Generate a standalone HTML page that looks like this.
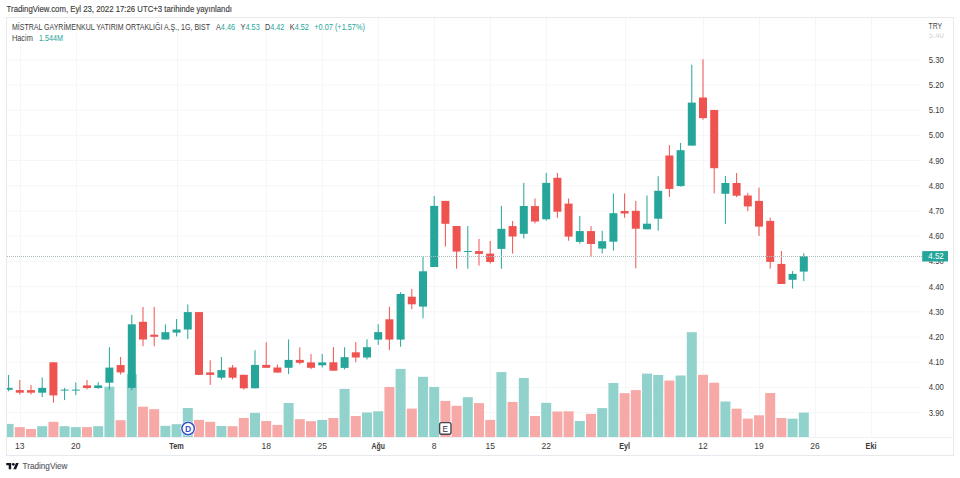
<!DOCTYPE html>
<html><head><meta charset="utf-8">
<style>
html,body{margin:0;padding:0;background:#fff;width:960px;height:478px;overflow:hidden}
svg{display:block;font-family:"Liberation Sans",sans-serif}
.pl{font-size:8.5px;fill:#383838}
.tl{font-size:8.5px;fill:#383838}
.b{font-weight:bold}
</style></head><body>
<svg width="960" height="478" viewBox="0 0 960 478">
<rect x="0" y="0" width="960" height="478" fill="#fff"/>
<text x="6.6" y="12.3" font-size="9.3" fill="#3c3c3c" stroke="#3c3c3c" stroke-width="0.15" textLength="225.3" lengthAdjust="spacingAndGlyphs">TradingView.com, Eyl 23, 2022 17:26 UTC+3 tarihinde yayınlandı</text>
<g>
<line x1="20.5" y1="17.5" x2="20.5" y2="437" stroke="#f5f6f8" stroke-width="1"/>
<line x1="76.5" y1="17.5" x2="76.5" y2="437" stroke="#f5f6f8" stroke-width="1"/>
<line x1="177.5" y1="17.5" x2="177.5" y2="437" stroke="#f5f6f8" stroke-width="1"/>
<line x1="266.5" y1="17.5" x2="266.5" y2="437" stroke="#f5f6f8" stroke-width="1"/>
<line x1="322.5" y1="17.5" x2="322.5" y2="437" stroke="#f5f6f8" stroke-width="1"/>
<line x1="378.5" y1="17.5" x2="378.5" y2="437" stroke="#f5f6f8" stroke-width="1"/>
<line x1="434.5" y1="17.5" x2="434.5" y2="437" stroke="#f5f6f8" stroke-width="1"/>
<line x1="490.5" y1="17.5" x2="490.5" y2="437" stroke="#f5f6f8" stroke-width="1"/>
<line x1="546.5" y1="17.5" x2="546.5" y2="437" stroke="#f5f6f8" stroke-width="1"/>
<line x1="625.5" y1="17.5" x2="625.5" y2="437" stroke="#f5f6f8" stroke-width="1"/>
<line x1="703.5" y1="17.5" x2="703.5" y2="437" stroke="#f5f6f8" stroke-width="1"/>
<line x1="759.5" y1="17.5" x2="759.5" y2="437" stroke="#f5f6f8" stroke-width="1"/>
<line x1="815.5" y1="17.5" x2="815.5" y2="437" stroke="#f5f6f8" stroke-width="1"/>
<line x1="871.5" y1="17.5" x2="871.5" y2="437" stroke="#f5f6f8" stroke-width="1"/>
<line x1="7" y1="412.6" x2="921" y2="412.6" stroke="#f5f6f8" stroke-width="1"/>
<line x1="7" y1="387.4" x2="921" y2="387.4" stroke="#f5f6f8" stroke-width="1"/>
<line x1="7" y1="362.2" x2="921" y2="362.2" stroke="#f5f6f8" stroke-width="1"/>
<line x1="7" y1="337" x2="921" y2="337" stroke="#f5f6f8" stroke-width="1"/>
<line x1="7" y1="311.8" x2="921" y2="311.8" stroke="#f5f6f8" stroke-width="1"/>
<line x1="7" y1="286.6" x2="921" y2="286.6" stroke="#f5f6f8" stroke-width="1"/>
<line x1="7" y1="261.4" x2="921" y2="261.4" stroke="#f5f6f8" stroke-width="1"/>
<line x1="7" y1="236.2" x2="921" y2="236.2" stroke="#f5f6f8" stroke-width="1"/>
<line x1="7" y1="211" x2="921" y2="211" stroke="#f5f6f8" stroke-width="1"/>
<line x1="7" y1="185.8" x2="921" y2="185.8" stroke="#f5f6f8" stroke-width="1"/>
<line x1="7" y1="160.6" x2="921" y2="160.6" stroke="#f5f6f8" stroke-width="1"/>
<line x1="7" y1="135.4" x2="921" y2="135.4" stroke="#f5f6f8" stroke-width="1"/>
<line x1="7" y1="110.2" x2="921" y2="110.2" stroke="#f5f6f8" stroke-width="1"/>
<line x1="7" y1="85" x2="921" y2="85" stroke="#f5f6f8" stroke-width="1"/>
<line x1="7" y1="59.8" x2="921" y2="59.8" stroke="#f5f6f8" stroke-width="1"/>
<rect x="7" y="423.9" width="6.6" height="13.1" fill="#92d2cc"/>
<rect x="14.8" y="427.1" width="10" height="9.9" fill="#f7a9a7"/>
<rect x="26" y="429" width="10" height="8" fill="#f7a9a7"/>
<rect x="37.2" y="426.2" width="10" height="10.8" fill="#92d2cc"/>
<rect x="48.4" y="421.8" width="10" height="15.2" fill="#f7a9a7"/>
<rect x="59.6" y="426.2" width="10" height="10.8" fill="#92d2cc"/>
<rect x="70.8" y="427.1" width="10" height="9.9" fill="#92d2cc"/>
<rect x="82" y="427.1" width="10" height="9.9" fill="#f7a9a7"/>
<rect x="93.2" y="426.2" width="10" height="10.8" fill="#92d2cc"/>
<rect x="104.4" y="386.7" width="10" height="50.3" fill="#92d2cc"/>
<rect x="115.6" y="420.2" width="10" height="16.8" fill="#f7a9a7"/>
<rect x="126.8" y="374" width="10" height="63" fill="#92d2cc"/>
<rect x="138" y="406.7" width="10" height="30.3" fill="#f7a9a7"/>
<rect x="149.2" y="409.2" width="10" height="27.8" fill="#f7a9a7"/>
<rect x="160.4" y="425.8" width="10" height="11.2" fill="#92d2cc"/>
<rect x="171.6" y="424.2" width="10" height="12.8" fill="#92d2cc"/>
<rect x="182.8" y="408" width="10" height="29" fill="#92d2cc"/>
<rect x="194" y="419.9" width="10" height="17.1" fill="#f7a9a7"/>
<rect x="205.2" y="421.8" width="10" height="15.2" fill="#f7a9a7"/>
<rect x="216.4" y="426" width="10" height="11" fill="#92d2cc"/>
<rect x="227.6" y="426.2" width="10" height="10.8" fill="#f7a9a7"/>
<rect x="238.8" y="418" width="10" height="19" fill="#f7a9a7"/>
<rect x="250" y="412.9" width="10" height="24.1" fill="#92d2cc"/>
<rect x="261.2" y="421" width="10" height="16" fill="#f7a9a7"/>
<rect x="272.4" y="424.9" width="10" height="12.1" fill="#f7a9a7"/>
<rect x="283.6" y="403" width="10" height="34" fill="#92d2cc"/>
<rect x="294.8" y="419.2" width="10" height="17.8" fill="#f7a9a7"/>
<rect x="306" y="421.2" width="10" height="15.8" fill="#f7a9a7"/>
<rect x="317.2" y="419.9" width="10" height="17.1" fill="#92d2cc"/>
<rect x="328.4" y="418" width="10" height="19" fill="#f7a9a7"/>
<rect x="339.6" y="388.9" width="10" height="48.1" fill="#92d2cc"/>
<rect x="350.8" y="416" width="10" height="21" fill="#f7a9a7"/>
<rect x="362" y="412.5" width="10" height="24.5" fill="#92d2cc"/>
<rect x="373.2" y="411.3" width="10" height="25.7" fill="#92d2cc"/>
<rect x="384.4" y="387" width="10" height="50" fill="#f7a9a7"/>
<rect x="395.6" y="368.9" width="10" height="68.1" fill="#92d2cc"/>
<rect x="406.8" y="408.6" width="10" height="28.4" fill="#f7a9a7"/>
<rect x="418" y="376.8" width="10" height="60.2" fill="#92d2cc"/>
<rect x="429.2" y="387" width="10" height="50" fill="#92d2cc"/>
<rect x="440.4" y="400.9" width="10" height="36.1" fill="#f7a9a7"/>
<rect x="451.6" y="405.8" width="10" height="31.2" fill="#f7a9a7"/>
<rect x="462.8" y="397.2" width="10" height="39.8" fill="#92d2cc"/>
<rect x="474" y="403.1" width="10" height="33.9" fill="#f7a9a7"/>
<rect x="485.2" y="419.9" width="10" height="17.1" fill="#f7a9a7"/>
<rect x="496.4" y="372.1" width="10" height="64.9" fill="#92d2cc"/>
<rect x="507.6" y="401.9" width="10" height="35.1" fill="#f7a9a7"/>
<rect x="518.8" y="378" width="10" height="59" fill="#92d2cc"/>
<rect x="530" y="416" width="10" height="21" fill="#f7a9a7"/>
<rect x="541.2" y="402.8" width="10" height="34.2" fill="#92d2cc"/>
<rect x="552.4" y="411.5" width="10" height="25.5" fill="#f7a9a7"/>
<rect x="563.6" y="411.3" width="10" height="25.7" fill="#f7a9a7"/>
<rect x="574.8" y="421" width="10" height="16" fill="#92d2cc"/>
<rect x="586" y="413.9" width="10" height="23.1" fill="#f7a9a7"/>
<rect x="597.2" y="408.1" width="10" height="28.9" fill="#92d2cc"/>
<rect x="608.4" y="383" width="10" height="54" fill="#92d2cc"/>
<rect x="619.6" y="393.2" width="10" height="43.8" fill="#f7a9a7"/>
<rect x="630.8" y="390.1" width="10" height="46.9" fill="#f7a9a7"/>
<rect x="642" y="373.6" width="10" height="63.4" fill="#92d2cc"/>
<rect x="653.2" y="375" width="10" height="62" fill="#92d2cc"/>
<rect x="664.4" y="380.5" width="10" height="56.5" fill="#f7a9a7"/>
<rect x="675.6" y="375.5" width="10" height="61.5" fill="#92d2cc"/>
<rect x="686.8" y="332.2" width="10" height="104.8" fill="#92d2cc"/>
<rect x="698" y="374.8" width="10" height="62.2" fill="#f7a9a7"/>
<rect x="709.2" y="382.7" width="10" height="54.3" fill="#f7a9a7"/>
<rect x="720.4" y="401.5" width="10" height="35.5" fill="#92d2cc"/>
<rect x="731.6" y="408.7" width="10" height="28.3" fill="#f7a9a7"/>
<rect x="742.8" y="418.6" width="10" height="18.4" fill="#f7a9a7"/>
<rect x="754" y="415.3" width="10" height="21.7" fill="#f7a9a7"/>
<rect x="765.2" y="393" width="10" height="44" fill="#f7a9a7"/>
<rect x="776.4" y="418" width="10" height="19" fill="#f7a9a7"/>
<rect x="787.6" y="418.7" width="10" height="18.3" fill="#92d2cc"/>
<rect x="798.8" y="412.6" width="10" height="24.4" fill="#92d2cc"/>
<rect x="8.1" y="374.9" width="1" height="16.4" fill="#26a69a"/>
<rect x="7" y="387.9" width="5.6" height="1.9" fill="#26a69a"/>
<rect x="19.3" y="379.9" width="1" height="14.6" fill="#ef5350"/>
<rect x="15.8" y="390.1" width="8" height="2.6" fill="#ef5350"/>
<rect x="30.5" y="385.1" width="1" height="9.4" fill="#ef5350"/>
<rect x="27" y="390.1" width="8" height="2.6" fill="#ef5350"/>
<rect x="41.7" y="377.4" width="1" height="19.7" fill="#26a69a"/>
<rect x="38.2" y="387.9" width="8" height="4.8" fill="#26a69a"/>
<rect x="52.9" y="362.3" width="1" height="40.4" fill="#ef5350"/>
<rect x="49.4" y="362.3" width="8" height="33.1" fill="#ef5350"/>
<rect x="64.1" y="388" width="1" height="12.1" fill="#26a69a"/>
<rect x="60.6" y="389.6" width="8" height="1" fill="#26a69a"/>
<rect x="75.3" y="382.5" width="1" height="12.5" fill="#26a69a"/>
<rect x="71.8" y="389.6" width="8" height="1" fill="#26a69a"/>
<rect x="86.5" y="379.9" width="1" height="9.6" fill="#ef5350"/>
<rect x="83" y="385.4" width="8" height="2.6" fill="#ef5350"/>
<rect x="97.7" y="382.2" width="1" height="6.6" fill="#26a69a"/>
<rect x="94.2" y="385.4" width="8" height="2.6" fill="#26a69a"/>
<rect x="108.9" y="347.2" width="1" height="42.5" fill="#26a69a"/>
<rect x="105.4" y="367.6" width="8" height="15.1" fill="#26a69a"/>
<rect x="120.1" y="357" width="1" height="17.5" fill="#ef5350"/>
<rect x="116.6" y="365.1" width="8" height="7.3" fill="#ef5350"/>
<rect x="131.3" y="314.9" width="1" height="75.1" fill="#26a69a"/>
<rect x="127.8" y="324.3" width="8" height="63.6" fill="#26a69a"/>
<rect x="142.5" y="306.9" width="1" height="39.3" fill="#ef5350"/>
<rect x="139" y="321.8" width="8" height="17.7" fill="#ef5350"/>
<rect x="153.7" y="306.9" width="1" height="39.3" fill="#ef5350"/>
<rect x="150.2" y="334.7" width="8" height="2.1" fill="#ef5350"/>
<rect x="164.9" y="324.3" width="1" height="15.2" fill="#26a69a"/>
<rect x="161.4" y="332.2" width="8" height="7.3" fill="#26a69a"/>
<rect x="176.1" y="319" width="1" height="17.4" fill="#26a69a"/>
<rect x="172.6" y="329.5" width="8" height="3.1" fill="#26a69a"/>
<rect x="187.3" y="304.4" width="1" height="34.5" fill="#26a69a"/>
<rect x="183.8" y="312.1" width="8" height="17.4" fill="#26a69a"/>
<rect x="198.5" y="312.1" width="1" height="62.8" fill="#ef5350"/>
<rect x="195" y="312.1" width="8" height="62.8" fill="#ef5350"/>
<rect x="209.7" y="360.2" width="1" height="24.7" fill="#ef5350"/>
<rect x="206.2" y="372.4" width="8" height="2.5" fill="#ef5350"/>
<rect x="220.9" y="357" width="1" height="22.5" fill="#26a69a"/>
<rect x="217.4" y="370.1" width="8" height="7.6" fill="#26a69a"/>
<rect x="232.1" y="364.9" width="1" height="14.6" fill="#ef5350"/>
<rect x="228.6" y="367.5" width="8" height="10.2" fill="#ef5350"/>
<rect x="243.3" y="374.8" width="1" height="14.7" fill="#ef5350"/>
<rect x="239.8" y="374.8" width="8" height="13.5" fill="#ef5350"/>
<rect x="254.5" y="350.2" width="1" height="38.1" fill="#26a69a"/>
<rect x="251" y="364.9" width="8" height="23.4" fill="#26a69a"/>
<rect x="265.7" y="342.3" width="1" height="25.5" fill="#ef5350"/>
<rect x="262.2" y="364.9" width="8" height="2.9" fill="#ef5350"/>
<rect x="276.9" y="364.6" width="1" height="8" fill="#ef5350"/>
<rect x="273.4" y="367.5" width="8" height="5.1" fill="#ef5350"/>
<rect x="288.1" y="339.4" width="1" height="34.7" fill="#26a69a"/>
<rect x="284.6" y="359.9" width="8" height="7.9" fill="#26a69a"/>
<rect x="299.3" y="347.3" width="1" height="17" fill="#ef5350"/>
<rect x="295.8" y="359.9" width="8" height="2.9" fill="#ef5350"/>
<rect x="310.5" y="354" width="1" height="15.2" fill="#ef5350"/>
<rect x="307" y="362.4" width="8" height="5.4" fill="#ef5350"/>
<rect x="321.7" y="354" width="1" height="13.5" fill="#26a69a"/>
<rect x="318.2" y="362.4" width="8" height="2.9" fill="#26a69a"/>
<rect x="332.9" y="347.1" width="1" height="23.6" fill="#ef5350"/>
<rect x="329.4" y="362.3" width="8" height="8.4" fill="#ef5350"/>
<rect x="344.1" y="347.2" width="1" height="22.2" fill="#26a69a"/>
<rect x="340.6" y="357.2" width="8" height="10.7" fill="#26a69a"/>
<rect x="355.3" y="342.1" width="1" height="20.1" fill="#ef5350"/>
<rect x="351.8" y="352.3" width="8" height="5.2" fill="#ef5350"/>
<rect x="366.5" y="339.3" width="1" height="20.1" fill="#26a69a"/>
<rect x="363" y="347.2" width="8" height="10.3" fill="#26a69a"/>
<rect x="377.7" y="324.2" width="1" height="20.7" fill="#26a69a"/>
<rect x="374.2" y="332.1" width="8" height="7.5" fill="#26a69a"/>
<rect x="388.9" y="306.7" width="1" height="43.3" fill="#ef5350"/>
<rect x="385.4" y="319.3" width="8" height="20.3" fill="#ef5350"/>
<rect x="400.1" y="292.2" width="1" height="54.6" fill="#26a69a"/>
<rect x="396.6" y="294" width="8" height="45.6" fill="#26a69a"/>
<rect x="411.3" y="289" width="1" height="20.3" fill="#ef5350"/>
<rect x="407.8" y="296.7" width="8" height="7.6" fill="#ef5350"/>
<rect x="422.5" y="256.7" width="1" height="61.6" fill="#26a69a"/>
<rect x="419" y="271.3" width="8" height="35.3" fill="#26a69a"/>
<rect x="433.7" y="195.9" width="1" height="71.1" fill="#26a69a"/>
<rect x="430.2" y="205.9" width="8" height="61.1" fill="#26a69a"/>
<rect x="444.9" y="200.9" width="1" height="45.7" fill="#ef5350"/>
<rect x="441.4" y="200.9" width="8" height="22.9" fill="#ef5350"/>
<rect x="456.1" y="226" width="1" height="42.7" fill="#ef5350"/>
<rect x="452.6" y="226" width="8" height="25.6" fill="#ef5350"/>
<rect x="467.3" y="226" width="1" height="42.7" fill="#26a69a"/>
<rect x="463.8" y="251" width="8" height="1" fill="#26a69a"/>
<rect x="478.5" y="238.9" width="1" height="26.7" fill="#ef5350"/>
<rect x="475" y="251.1" width="8" height="2.8" fill="#ef5350"/>
<rect x="489.7" y="241" width="1" height="22.6" fill="#ef5350"/>
<rect x="486.2" y="253.6" width="8" height="8.4" fill="#ef5350"/>
<rect x="500.9" y="205.9" width="1" height="62.8" fill="#26a69a"/>
<rect x="497.4" y="228.8" width="8" height="20.1" fill="#26a69a"/>
<rect x="512.1" y="221" width="1" height="32.6" fill="#ef5350"/>
<rect x="508.6" y="226.1" width="8" height="10.4" fill="#ef5350"/>
<rect x="523.3" y="182.9" width="1" height="55.6" fill="#26a69a"/>
<rect x="519.8" y="206" width="8" height="27.8" fill="#26a69a"/>
<rect x="534.5" y="198.5" width="1" height="24.9" fill="#ef5350"/>
<rect x="531" y="206.1" width="8" height="15.4" fill="#ef5350"/>
<rect x="545.7" y="172.9" width="1" height="47.7" fill="#26a69a"/>
<rect x="542.2" y="182.9" width="8" height="36.4" fill="#26a69a"/>
<rect x="556.9" y="172.9" width="1" height="44.9" fill="#ef5350"/>
<rect x="553.4" y="177.8" width="8" height="33.9" fill="#ef5350"/>
<rect x="568.1" y="198.5" width="1" height="42.2" fill="#ef5350"/>
<rect x="564.6" y="203.6" width="8" height="33" fill="#ef5350"/>
<rect x="579.3" y="215.9" width="1" height="27.8" fill="#26a69a"/>
<rect x="575.8" y="231.1" width="8" height="10.8" fill="#26a69a"/>
<rect x="590.5" y="226.1" width="1" height="30.4" fill="#ef5350"/>
<rect x="587" y="231.1" width="8" height="12.9" fill="#ef5350"/>
<rect x="601.7" y="230.8" width="1" height="22.7" fill="#26a69a"/>
<rect x="598.2" y="241.2" width="8" height="7.4" fill="#26a69a"/>
<rect x="612.9" y="193.5" width="1" height="57.1" fill="#26a69a"/>
<rect x="609.4" y="213.2" width="8" height="28.5" fill="#26a69a"/>
<rect x="624.1" y="193.5" width="1" height="24.3" fill="#ef5350"/>
<rect x="620.6" y="211" width="8" height="2.5" fill="#ef5350"/>
<rect x="635.3" y="200.9" width="1" height="67.5" fill="#ef5350"/>
<rect x="631.8" y="210.8" width="8" height="17.9" fill="#ef5350"/>
<rect x="646.5" y="195.5" width="1" height="33.8" fill="#26a69a"/>
<rect x="643" y="223.7" width="8" height="5.6" fill="#26a69a"/>
<rect x="657.7" y="176.2" width="1" height="54.5" fill="#26a69a"/>
<rect x="654.2" y="190.8" width="8" height="27.9" fill="#26a69a"/>
<rect x="668.9" y="145.2" width="1" height="51.7" fill="#ef5350"/>
<rect x="665.4" y="155.5" width="8" height="33.4" fill="#ef5350"/>
<rect x="680.1" y="142.9" width="1" height="43.7" fill="#26a69a"/>
<rect x="676.6" y="150.2" width="8" height="35.9" fill="#26a69a"/>
<rect x="691.3" y="64.7" width="1" height="80.9" fill="#26a69a"/>
<rect x="687.8" y="102.6" width="8" height="43" fill="#26a69a"/>
<rect x="702.5" y="59.2" width="1" height="60.5" fill="#ef5350"/>
<rect x="699" y="97.5" width="8" height="20.6" fill="#ef5350"/>
<rect x="713.7" y="109.8" width="1" height="83.6" fill="#ef5350"/>
<rect x="710.2" y="110" width="8" height="58.2" fill="#ef5350"/>
<rect x="724.9" y="176" width="1" height="47.9" fill="#26a69a"/>
<rect x="721.4" y="183" width="8" height="10.8" fill="#26a69a"/>
<rect x="736.1" y="173.1" width="1" height="24" fill="#ef5350"/>
<rect x="732.6" y="183" width="8" height="12.7" fill="#ef5350"/>
<rect x="747.3" y="192.8" width="1" height="18.3" fill="#ef5350"/>
<rect x="743.8" y="195.5" width="8" height="10.9" fill="#ef5350"/>
<rect x="758.5" y="187.7" width="1" height="48.2" fill="#ef5350"/>
<rect x="755" y="200.9" width="8" height="25.7" fill="#ef5350"/>
<rect x="769.7" y="217.6" width="1" height="51" fill="#ef5350"/>
<rect x="766.2" y="220.9" width="8" height="41" fill="#ef5350"/>
<rect x="780.9" y="251" width="1" height="33" fill="#ef5350"/>
<rect x="777.4" y="263.9" width="8" height="20.1" fill="#ef5350"/>
<rect x="792.1" y="271.1" width="1" height="17.5" fill="#26a69a"/>
<rect x="788.6" y="273.9" width="8" height="5.9" fill="#26a69a"/>
<rect x="803.3" y="253.2" width="1" height="27.9" fill="#26a69a"/>
<rect x="799.8" y="256.2" width="8" height="15.4" fill="#26a69a"/>
</g>
<line x1="7" y1="437.5" x2="953" y2="437.5" stroke="#f0f1f4" stroke-width="1"/>
<rect x="6.5" y="17.5" width="947" height="438" fill="none" stroke="#e8e9ec" stroke-width="1"/>
<!-- legend -->
<rect x="7" y="18" width="361" height="14.5" fill="#fff"/>
<rect x="7" y="32.5" width="59" height="11" fill="#fff"/>
<g font-size="8.3" fill="#3c3c3c" stroke-width="0.12">
<text x="11.9" y="29.8" textLength="198.1" lengthAdjust="spacingAndGlyphs">MİSTRAL GAYRİMENKUL YATIRIM ORTAKLIĞI A.Ş., 1G, BIST</text>
<text x="216" y="29.8" textLength="19" lengthAdjust="spacingAndGlyphs">A<tspan fill="#26a69a">4.46</tspan></text>
<text x="240.6" y="29.8" textLength="19.2" lengthAdjust="spacingAndGlyphs">Y<tspan fill="#26a69a">4.53</tspan></text>
<text x="265" y="29.8" textLength="19.2" lengthAdjust="spacingAndGlyphs">D<tspan fill="#26a69a">4.42</tspan></text>
<text x="289.75" y="29.8" textLength="19.15" lengthAdjust="spacingAndGlyphs">K<tspan fill="#26a69a">4.52</tspan></text>
<text x="314.3" y="29.8" fill="#26a69a" textLength="50.6" lengthAdjust="spacingAndGlyphs">+0.07 (+1.57%)</text>
<text x="11.9" y="40.6" textLength="21" lengthAdjust="spacingAndGlyphs">Hacim</text>
<text x="39" y="40.6" fill="#26a69a" textLength="24" lengthAdjust="spacingAndGlyphs">1.544M</text>
</g>
<!-- price labels -->
<g>
<text x="928.7" y="415.6" textLength="15.1" lengthAdjust="spacingAndGlyphs" class="pl">3.90</text>
<text x="928.7" y="390.4" textLength="15.1" lengthAdjust="spacingAndGlyphs" class="pl">4.00</text>
<text x="928.7" y="365.2" textLength="15.1" lengthAdjust="spacingAndGlyphs" class="pl">4.10</text>
<text x="928.7" y="340" textLength="15.1" lengthAdjust="spacingAndGlyphs" class="pl">4.20</text>
<text x="928.7" y="314.8" textLength="15.1" lengthAdjust="spacingAndGlyphs" class="pl">4.30</text>
<text x="928.7" y="289.6" textLength="15.1" lengthAdjust="spacingAndGlyphs" class="pl">4.40</text>
<text x="928.7" y="264.4" textLength="15.1" lengthAdjust="spacingAndGlyphs" class="pl">4.50</text>
<text x="928.7" y="239.2" textLength="15.1" lengthAdjust="spacingAndGlyphs" class="pl">4.60</text>
<text x="928.7" y="214" textLength="15.1" lengthAdjust="spacingAndGlyphs" class="pl">4.70</text>
<text x="928.7" y="188.8" textLength="15.1" lengthAdjust="spacingAndGlyphs" class="pl">4.80</text>
<text x="928.7" y="163.6" textLength="15.1" lengthAdjust="spacingAndGlyphs" class="pl">4.90</text>
<text x="928.7" y="138.4" textLength="15.1" lengthAdjust="spacingAndGlyphs" class="pl">5.00</text>
<text x="928.7" y="113.2" textLength="15.1" lengthAdjust="spacingAndGlyphs" class="pl">5.10</text>
<text x="928.7" y="88" textLength="15.1" lengthAdjust="spacingAndGlyphs" class="pl">5.20</text>
<text x="928.7" y="62.8" textLength="15.1" lengthAdjust="spacingAndGlyphs" class="pl">5.30</text>
<text x="928.7" y="37.6" textLength="15.1" lengthAdjust="spacingAndGlyphs" class="pl" style="fill:#d3d3d3">5.40</text>
</g>
<rect x="921" y="18" width="30" height="15.5" fill="#fff"/>
<text x="928.6" y="29.3" font-size="8.7" fill="#4a4a4a" textLength="13.5" lengthAdjust="spacingAndGlyphs">TRY</text>
<!-- last price line -->
<line x1="7" y1="256.5" x2="922" y2="256.5" stroke="#a9bcba" stroke-width="1" stroke-dasharray="1 1"/>
<rect x="922.2" y="251.1" width="25.8" height="10.4" fill="#26a69a"/>
<text x="928.3" y="259.4" font-size="8.4" fill="#fff" textLength="15.4" lengthAdjust="spacingAndGlyphs">4.52</text>
<!-- time labels -->
<g>
<text x="19.8" y="448.8" text-anchor="middle" class="tl">13</text>
<text x="75.8" y="448.8" text-anchor="middle" class="tl">20</text>
<text x="176.6" y="448.8" text-anchor="middle" class="tl b" textLength="14.5" lengthAdjust="spacingAndGlyphs">Tem</text>
<text x="266.2" y="448.8" text-anchor="middle" class="tl">18</text>
<text x="322.2" y="448.8" text-anchor="middle" class="tl">25</text>
<text x="378.2" y="448.8" text-anchor="middle" class="tl b" textLength="13.4" lengthAdjust="spacingAndGlyphs">Ağu</text>
<text x="434.2" y="448.8" text-anchor="middle" class="tl">8</text>
<text x="490.2" y="448.8" text-anchor="middle" class="tl">15</text>
<text x="546.2" y="448.8" text-anchor="middle" class="tl">22</text>
<text x="624.6" y="448.8" text-anchor="middle" class="tl b" textLength="10.8" lengthAdjust="spacingAndGlyphs">Eyl</text>
<text x="703" y="448.8" text-anchor="middle" class="tl">12</text>
<text x="759" y="448.8" text-anchor="middle" class="tl">19</text>
<text x="815" y="448.8" text-anchor="middle" class="tl">26</text>
<text x="871" y="448.8" text-anchor="middle" class="tl b" textLength="10.9" lengthAdjust="spacingAndGlyphs">Eki</text>
</g>
<!-- markers -->
<circle cx="188.1" cy="428.5" r="7.6" fill="#fff"/>
<circle cx="188.1" cy="428.5" r="6.2" fill="#fff" stroke="#3552cc" stroke-width="1.5"/>
<text x="188.2" y="431.6" font-size="8.6" font-weight="bold" fill="#3552cc" text-anchor="middle">D</text>
<rect x="439.6" y="422.6" width="11.4" height="11.6" rx="2" fill="#fff" stroke="#44464f" stroke-width="1.4"/>
<text x="445.3" y="431.7" font-size="8.2" fill="#33353d" text-anchor="middle">E</text>
<!-- footer logo -->
<g transform="translate(6.25,461.5) scale(0.352)" fill="#131722"><path d="M14 22H7V11H0V4h14v18zM28 22h-8l7.5-18h8L28 22z"/><circle cx="20" cy="8" r="4"/></g>
<text x="22.5" y="469.2" font-size="8.9" fill="#55585f" stroke="#55585f" stroke-width="0.12" textLength="45" lengthAdjust="spacingAndGlyphs">TradingView</text>
</svg>
</body></html>
